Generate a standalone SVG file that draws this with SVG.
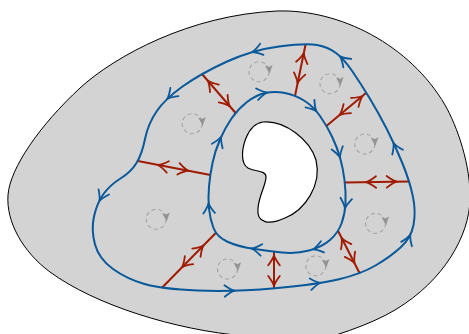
<svg xmlns="http://www.w3.org/2000/svg" width="469" height="334" viewBox="0 0 469 334">
<defs>
<style>
.blob{fill:#d3d3d3;stroke:#000;stroke-width:1}
.hole{fill:#fff;stroke:#000;stroke-width:1.2}
.loop{fill:none;stroke:#08589a;stroke-width:2}
.flux line{stroke:#a01a00;stroke-width:2}
.tip{fill:none;stroke-width:1.8;stroke-linecap:round;stroke-linejoin:round}
.b{stroke:#08589a}
.r{stroke:#a01a00}
.vortex circle{fill:none;stroke:#a3a3a3;stroke-width:1.1;stroke-dasharray:4 3}
.vortex use{fill:#939393}
</style>
<path id="chev" d="M-10,-5.8 Q-4,-1.2 0,0 Q-4,1.2 -10,5.8"/>
<path id="spin" d="M0,0 L-8.5,-3.8 L-6.8,0 L-8.5,3.8 Z"/>
</defs>

<!-- annular region with its hole -->
<g id="region">
<path class="blob" d="M277,11 C340,9 410,45 445,105 C457,126 471,165 470,200 C469,235 445,280 395,310 C370,325 330,338 300,345 L250,346 L245,336 C175,330 95,305 50,272 C23,252 6,222 8,195 C10,168 40,125 80,88 C115,56 190,15 277,11 Z"/>
<path class="hole" d="M263,122 C285,120 310,140 316,160 C322,185 305,210 285,218 C270,225 256,224 258,208 C259,195 266,185 266,177 C266,170 255,172 248,168 C240,163 242,148 246,138 C250,128 256,123 263,122 Z"/>
</g>

<!-- small vortices -->
<g id="vortices">
<g id="v1" class="vortex"><circle cx="192.2" cy="123.7" r="10"/><use href="#spin" transform="translate(202.7,125.7) rotate(85)"/></g>
<g id="v2" class="vortex"><circle cx="259" cy="71.7" r="10"/><use href="#spin" transform="translate(269.5,73.7) rotate(85)"/></g>
<g id="v3" class="vortex"><circle cx="330" cy="83.7" r="10"/><use href="#spin" transform="translate(340.5,85.7) rotate(85)"/></g>
<g id="v4" class="vortex"><circle cx="364.8" cy="144" r="10"/><use href="#spin" transform="translate(375.3,146) rotate(85)"/></g>
<g id="v5" class="vortex"><circle cx="375.5" cy="223.3" r="10"/><use href="#spin" transform="translate(386,225.3) rotate(85)"/></g>
<g id="v6" class="vortex"><circle cx="315.8" cy="265.8" r="10"/><use href="#spin" transform="translate(326.3,267.8) rotate(85)"/></g>
<g id="v7" class="vortex"><circle cx="227.5" cy="269" r="10"/><use href="#spin" transform="translate(238,271) rotate(85)"/></g>
<g id="v8" class="vortex"><circle cx="156.2" cy="219.3" r="10"/><use href="#spin" transform="translate(166.7,221.3) rotate(85)"/></g>
</g>

<!-- radial connectors between the two loops -->
<g id="connectors" class="flux">
<line x1="235.6" y1="113" x2="202" y2="74"/>
<use href="#chev" class="tip r" transform="translate(207.9,80.8) rotate(-130.7)"/>
<use href="#chev" class="tip r" transform="translate(229.7,106.2) rotate(49.3)"/>

<line x1="295" y1="96" x2="305.6" y2="44.3"/>
<use href="#chev" class="tip r" transform="translate(303.8,53.1) rotate(-78.4)"/>
<use href="#chev" class="tip r" transform="translate(297.6,83.3) rotate(101.6)"/>

<line x1="325.8" y1="126.5" x2="366.3" y2="92.8"/>
<use href="#chev" class="tip r" transform="translate(362.5,96) rotate(-39.8)"/>
<use href="#chev" class="tip r" transform="translate(339.6,115) rotate(140.2)"/>

<line x1="344.8" y1="182.5" x2="409" y2="181.5"/>
<use href="#chev" class="tip r" transform="translate(396.7,181.7) rotate(-0.9)"/>
<use href="#chev" class="tip r" transform="translate(366,182.2) rotate(179.1)"/>

<line x1="338" y1="230.7" x2="359.5" y2="273"/>
<use href="#chev" class="tip r" transform="translate(354.5,263.1) rotate(63)"/>
<use href="#chev" class="tip r" transform="translate(341.6,237.8) rotate(-117)"/>

<line x1="274" y1="251.5" x2="274" y2="288"/>
<use href="#chev" class="tip r" transform="translate(274,286) rotate(90)"/>
<use href="#chev" class="tip r" transform="translate(274,255.3) rotate(-90)"/>

<line x1="216" y1="232.8" x2="161.7" y2="288"/>
<use href="#chev" class="tip r" transform="translate(182,267.3) rotate(134.5)"/>
<use href="#chev" class="tip r" transform="translate(203.4,245.6) rotate(-45.5)"/>

<line x1="210.5" y1="175" x2="137.8" y2="161"/>
<use href="#chev" class="tip r" transform="translate(158,165) rotate(190.9)"/>
<use href="#chev" class="tip r" transform="translate(188.3,170.7) rotate(10.9)"/>
</g>

<!-- outer loop, counter-clockwise -->
<g id="outer-loop">
<path class="loop" d="M279,46.5 Q252,50 226,62 Q200,74 182.5,86.5 Q165,99 156.5,111.5 Q148,124 145,139 Q142,154 136.5,163 Q131,172 120.5,178.5 Q110,185 103.5,194 Q97,203 94,216.5 Q91,230 95,244.5 Q99,259 113,269 Q127,279 144.5,284 Q162,289 197.5,290.5 Q233,292 275,288.25 Q317,284.5 339,279.25 Q361,274 375.5,265.5 Q390,257 400.5,247.5 Q411,238 413.5,225 Q416,212 413,197 Q410,182 402.5,163.5 Q395,145 386.5,128.5 Q378,112 369.5,98 Q361,84 352.5,71.5 Q344,59 336,53 Q328,47 317,45 Q306,43 279,46.5 Z"/>
<use href="#chev" class="tip b" transform="translate(252.2,52.1) rotate(163.7)"/>
<use href="#chev" class="tip b" transform="translate(167.2,99) rotate(136)"/>
<use href="#chev" class="tip b" transform="translate(99.4,200.9) rotate(116)"/>
<use href="#chev" class="tip b" transform="translate(234.6,290.7) rotate(-1.7)"/>
<use href="#chev" class="tip b" transform="translate(320.5,282.8) rotate(-8)"/>
<use href="#chev" class="tip b" transform="translate(410.3,234.8) rotate(-68)"/>
<use href="#chev" class="tip b" transform="translate(393.5,143) rotate(-114)"/>
<use href="#chev" class="tip b" transform="translate(340,56.4) rotate(-137)"/>
</g>

<!-- inner loop, clockwise -->
<g id="inner-loop">
<path class="loop" d="M285,93 Q295,95 304,100.5 Q313,106 320,116 Q327,126 332,136.5 Q337,147 340,157.5 Q343,168 344.5,180 Q346,192 345.5,203 Q345,214 341.5,223.5 Q338,233 330,240 Q322,247 309,250.5 Q296,254 282,252.5 Q268,251 253,248.75 Q238,246.5 227.5,241.75 Q217,237 213.5,228 Q210,219 209,208.5 Q208,198 209,186.5 Q210,175 212.5,163 Q215,151 220,139.5 Q225,128 231.5,118.5 Q238,109 247,102 Q256,95 265.5,93 Q275,91 285,93 Z"/>
<use href="#chev" class="tip b" transform="translate(267,92.5) rotate(-10)"/>
<use href="#chev" class="tip b" transform="translate(316.4,111.3) rotate(50)"/>
<use href="#chev" class="tip b" transform="translate(340,157.5) rotate(74)"/>
<use href="#chev" class="tip b" transform="translate(345,208.4) rotate(97)"/>
<use href="#chev" class="tip b" transform="translate(312.8,249.4) rotate(165)"/>
<use href="#chev" class="tip b" transform="translate(251.5,248.5) rotate(188.5)"/>
<use href="#chev" class="tip b" transform="translate(208.6,203.2) rotate(-93)"/>
<use href="#chev" class="tip b" transform="translate(221.2,136.8) rotate(-67)"/>
</g>
</svg>
